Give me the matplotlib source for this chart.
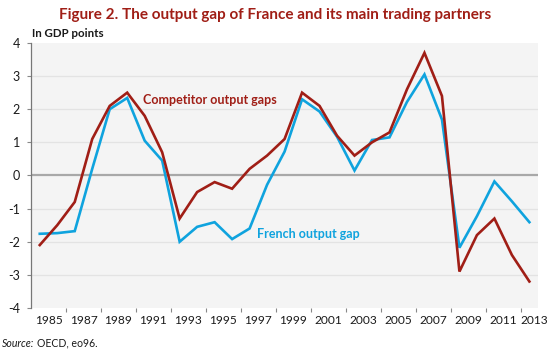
import matplotlib
matplotlib.use("Agg")
import matplotlib.pyplot as plt
import numpy as np

# data
years = list(range(1985, 2014))
competitor_gap = [-2.1, -1.5, -0.8, 1.1, 2.1, 2.5, 1.8, 0.7, -1.3, -0.5,
                  -0.2, -0.4, 0.2, 0.6, 1.1, 2.5, 2.1, 1.2, 0.6, 1.0,
                  1.3, 2.6, 3.7, 2.4, -2.9, -1.8, -1.3, -2.4, -3.2]
french_gap = [-1.76, -1.74, -1.68, 0.2, 2.0, 2.34, 1.05, 0.45, -2.0, -1.55,
              -1.41, -1.92, -1.6, -0.28, 0.72, 2.3, 1.93, 1.17, 0.15, 1.07,
              1.15, 2.22, 3.05, 1.69, -2.18, -1.23, -0.18, -0.78, -1.41]
year_labels = [str(y) for y in range(1985, 2014, 2)]
y_ticks = [-4, -3, -2, -1, 0, 1, 2, 3, 4]

RED = "#a01e16"
BLUE = "#0fa3de"

plt.rcParams['font.family'] = ['Lato', 'DejaVu Sans']

fig = plt.figure(figsize=(5.5, 3.52), dpi=100)
ax = fig.add_axes([0.0564, 0.125, 0.922, 0.753])
ax.set_facecolor("#f4f4f4")

# grid + zero line
for y in y_ticks:
    if y == 0:
        ax.axhline(0, color="#a8a8a8", lw=1.6, zorder=1)
    elif -4 < y < 4:
        ax.axhline(y, color="#e3e3e3", lw=0.9, zorder=1)

ax.plot(years, french_gap, color=BLUE, lw=1.9, zorder=3, solid_joinstyle='miter')
ax.plot(years, competitor_gap, color=RED, lw=1.9, zorder=3, solid_joinstyle='miter')

ax.set_xlim(years[0] - 0.5, years[-1] + 0.5)
ax.set_ylim(-4, 4)

# category-style x axis: tick marks at pair boundaries, labels centred between them
ax.set_xticks(np.arange(years[0] + 1.5, years[-1] + 0.5, 2))
ax.set_xticklabels([])
label_pos = [y + 0.5 if y < years[-1] else y + 0.3 for y in range(1985, 2014, 2)]
ax.set_xticks(label_pos, minor=True)
ax.set_xticklabels(year_labels, minor=True, fontsize=8.6, color="#1a1a1a")
ax.tick_params(axis='x', which='major', length=3, color="#888888", direction='out')
ax.tick_params(axis='x', which='minor', length=0, pad=5)

ax.set_yticks(y_ticks)
ax.set_yticklabels([str(v) for v in y_ticks], fontsize=9, color="#1a1a1a")
ax.tick_params(axis='y', length=3, color="#888888", pad=5)

for s in ['top', 'right', 'bottom']:
    ax.spines[s].set_visible(False)
ax.spines['left'].set_color("#777777")
ax.spines['left'].set_linewidth(0.9)

# series labels
ax.text(1990.9, 2.28, "Competitor output gaps", color=RED, fontsize=9,
        fontweight='bold', va='center', ha='left')
ax.text(1997.45, -1.78, "French output gap", color=BLUE, fontsize=9,
        fontweight='bold', va='center', ha='left')

fig.text(0.5, 0.958, "Figure 2. The output gap of France and its main trading partners",
         ha='center', va='center', color=RED, fontsize=11, fontweight='bold')
fig.text(0.058, 0.906, "In GDP points", ha='left', va='center', fontsize=8.3,
         fontweight='bold', color="#1a1a1a")
fig.text(0.004, 0.025, "Source:", ha='left', va='center', fontsize=7.6,
         style='italic', color="#1a1a1a")
fig.text(0.068, 0.025, "OECD, eo96.", ha='left', va='center', fontsize=7.6,
         color="#1a1a1a")

fig.savefig("out.png", dpi=100)
